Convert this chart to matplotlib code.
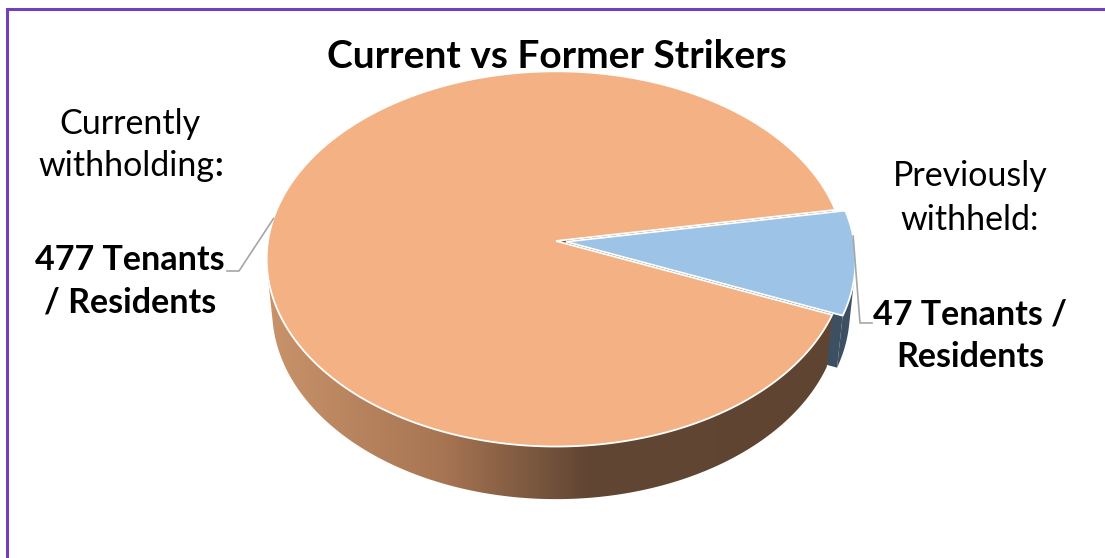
import numpy as np
import matplotlib.pyplot as plt
from matplotlib.patches import Polygon
from matplotlib.colors import LinearSegmentedColormap

# data
categories = ["Currently withholding", "Previously withheld"]
values = [477, 47]
head_labels = [["Currently", "withholding"], ["Previously", "withheld:"]]
count_labels = [["477 Tenants", "/ Residents"], ["47 Tenants /", "Residents"]]

top_colors = ["#F4B183", "#9DC3E6"]
side_colors = ["#6A4C37", "#3D5062"]
explode = [0.0, 0.035]
FIRST_ANGLE = -22.5   # slices run clockwise from here

# fake 3d camera (pixel units)
CX, CY = 556, 241
S, D = 2304, 8.0
TILT = np.radians(40.2)
H = 0.239
ca, sa = np.cos(TILT), np.sin(TILT)


def project(u, v, z):
    u, v, z = np.broadcast_arrays(np.asarray(u, float), np.asarray(v, float), np.asarray(z, float))
    xc = u
    yc = z * ca + v * sa
    dep = D + v * ca - z * sa
    return CX + S * xc / dep, CY - S * yc / dep


plt.rcParams['font.family'] = ['Lato', 'DejaVu Sans']
fig = plt.figure(figsize=(11.05, 5.58), dpi=100)
ax = fig.add_axes([0, 0, 1, 1])
ax.set_xlim(0, 1105)
ax.set_ylim(558, 0)
ax.axis("off")

wall_cmap = LinearSegmentedColormap.from_list(
    "wall", [(0, "#C8936A"), (0.3, "#A87553"), (0.55, "#614633"), (1, "#5E4431")])

total = sum(values)
spans = [360.0 * v / total for v in values]
bounds = []
a = FIRST_ANGLE
for s in spans:
    bounds.append((a - s, a))
    a -= s

side_z = [2, 1]
top_z = [3, 4]
for i, (lo, hi) in enumerate(bounds):
    mid = np.radians((lo + hi) / 2)
    ox, oy = explode[i] * np.cos(mid), explode[i] * np.sin(mid)
    phi = np.radians(np.linspace(lo, hi, 400))
    ax_, ay_ = project(ox, oy, 0)

    # outer wall, only the part facing the camera
    vis = -1 - ox * np.cos(phi) - (D * ca + oy) * np.sin(phi) > 0
    if vis.any():
        p = phi[vis]
        tx, ty = project(ox + np.cos(p), oy + np.sin(p), 0)
        bx, by = project(ox + np.cos(p), oy + np.sin(p), -H)
        pts = np.column_stack([np.r_[tx, bx[::-1]], np.r_[ty, by[::-1]]])
        if i == 0:
            clip = Polygon(pts, closed=True, facecolor="none", edgecolor="none", zorder=side_z[i])
            ax.add_patch(clip)
            grad = np.linspace(0, 1, 256).reshape(1, -1)
            im = ax.imshow(grad, extent=(268, 846, 560, 0), cmap=wall_cmap,
                           aspect="auto", zorder=side_z[i], interpolation="bilinear")
            im.set_clip_path(clip)
        else:
            ax.add_patch(Polygon(pts, closed=True, facecolor=side_colors[i],
                                 edgecolor="none", zorder=side_z[i]))

    # radial cut faces
    for ang, sgn in ((np.radians(lo), 1), (np.radians(hi), -1)):
        nx, ny = sgn * np.sin(ang), -sgn * np.cos(ang)
        if -ox * nx + (-D * ca - oy) * ny > 0:
            qx, qy = project([ox, ox + np.cos(ang), ox + np.cos(ang), ox],
                             [oy, oy + np.sin(ang), oy + np.sin(ang), oy],
                             [0, 0, -H, -H])
            ax.add_patch(Polygon(np.column_stack([qx, qy]), closed=True,
                                 facecolor=side_colors[i], edgecolor="none",
                                 zorder=side_z[i] + 0.5 * (i == 0)))

    # top
    tx, ty = project(ox + np.cos(phi), oy + np.sin(phi), 0)
    pts = np.column_stack([np.r_[ax_, tx], np.r_[ay_, ty]])
    ax.add_patch(Polygon(pts, closed=True, facecolor=top_colors[i],
                         edgecolor="white", linewidth=1.3, zorder=top_z[i]))

# leader lines
lx, ly = project(np.cos(np.radians(173)), np.sin(np.radians(173)), 0)
ax.plot([227, 239, float(lx)], [271, 271, float(ly)], color="#A6A6A6", lw=1.2, zorder=5)
mid_b = np.radians(np.mean(bounds[1]))
ang = np.radians(bounds[1][0] + 0.75 * spans[1])
rx, ry = project(explode[1] * np.cos(mid_b) + np.cos(ang), explode[1] * np.sin(mid_b) + np.sin(ang), 0)
ax.plot([float(rx), 860, 872], [float(ry), 323, 323], color="#A6A6A6", lw=1.2, zorder=5)

# labels
FS = 24.5
lab_x = [130, 970]
head_y = [[124, 166], [176, 220]]
cnt_y = [[260, 303], [314, 357]]
for i in range(len(values)):
    for j, (t, y) in enumerate(zip(head_labels[i], head_y[i])):
        if i == 0 and j == 1:
            # colon after "withholding" is bold in the original
            t1 = ax.text(lab_x[i] - 4, y, t, ha="center", va="center", fontsize=FS, color="black")
            ax.annotate(":", xy=(1, 0.5), xycoords=t1, ha="left", va="center",
                        fontsize=FS, fontweight="bold", color="black")
        else:
            ax.text(lab_x[i], y, t, ha="center", va="center", fontsize=FS, color="black")
    for t, y in zip(count_labels[i], cnt_y[i]):
        ax.text(lab_x[i], y, t, ha="center", va="center", fontsize=FS,
                fontweight="bold", color="black")

ax.text(557, 57, "Current vs Former Strikers", ha="center", va="center",
        fontsize=28, fontweight="bold", color="black")

# purple frame (only left and top show)
ax.plot([7, 7, 1110], [570, 9, 9], color="#7440B8", lw=2.2, solid_joinstyle="miter", zorder=6)

fig.savefig("out.png", dpi=100)
